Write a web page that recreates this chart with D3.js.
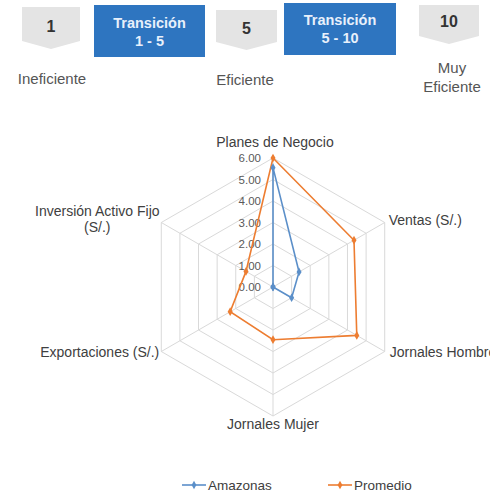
<!DOCTYPE html>
<html>
<head>
<meta charset="utf-8">
<script src="https://cdn.jsdelivr.net/npm/d3@7"></script>
<style>
  html, body { margin: 0; padding: 0; background: #fff; overflow: hidden; }
  svg { display: block; font-family: "Liberation Sans", Arial, sans-serif; }
</style>
</head>
<body>
<svg id="chart" width="490" height="495"></svg>
<script>
// ---- data ----
const categories = ["Planes de Negocio", "Ventas (S/.)", "Jornales Hombre", "Jornales Mujer", "Exportaciones (S/.)", "Inversión Activo Fijo (S/.)"];
const amazonas = [5.55, 1.4, 1.0, 0.0, 0.0, 0.0];
const promedio = [6.0, 4.35, 4.5, 2.45, 2.3, 1.45];
const seriesNames = ["Amazonas", "Promedio"];
const tickValues = [0, 1, 2, 3, 4, 5, 6];
const levelLabels = ["1", "5", "10"];
const levelNames = [["Ineficiente"], ["Eficiente"], ["Muy", "Eficiente"]];
const transitionLabels = [["Transición", "1 - 5"], ["Transición", "5 - 10"]];

const colors = { Amazonas: "#5b8fc9", Promedio: "#ed7d31" };

const svg = d3.select("#chart");

// ---- header ----
const grayBoxes = [
  { x: 22, y: 7, w: 58, h: 34, tip: 8, ty: 32 },
  { x: 216, y: 10, w: 61, h: 32, tip: 8, ty: 34 },
  { x: 419, y: 5, w: 60, h: 31, tip: 8, ty: 27 }
];
const grayG = svg.append("g");
grayBoxes.forEach((b, i) => {
  const p = d3.path();
  p.moveTo(b.x, b.y);
  p.lineTo(b.x + b.w, b.y);
  p.lineTo(b.x + b.w, b.y + b.h);
  p.lineTo(b.x + b.w / 2, b.y + b.h + b.tip);
  p.lineTo(b.x, b.y + b.h);
  p.closePath();
  grayG.append("path").attr("d", p.toString()).attr("fill", "#e4e4e4");
  grayG.append("text").attr("x", b.x + b.w / 2).attr("y", b.ty)
    .attr("text-anchor", "middle").attr("font-size", 16).attr("font-weight", "bold")
    .attr("fill", "#333").text(levelLabels[i]);
});
const nameY = [[84], [85], [73, 92]];
const nameX = [52, 245, 452];
levelNames.forEach((lines, i) => {
  lines.forEach((t, j) => {
    svg.append("text").attr("x", nameX[i]).attr("y", nameY[i][j])
      .attr("text-anchor", "middle").attr("font-size", 15).attr("fill", "#555").text(t);
  });
});
const blueBoxes = [{ x: 94, y: 5, w: 111, h: 52, ty: 28 }, { x: 284, y: 3, w: 112, h: 52, ty: 25 }];
blueBoxes.forEach((b, i) => {
  svg.append("rect").attr("x", b.x).attr("y", b.y).attr("width", b.w).attr("height", b.h).attr("fill", "#2e75c0");
  transitionLabels[i].forEach((t, j) => {
    svg.append("text").attr("x", b.x + b.w / 2).attr("y", b.ty + j * 18)
      .attr("text-anchor", "middle").attr("font-size", 14.5).attr("font-weight", "bold")
      .attr("fill", "#e8f0fb").text(t);
  });
});

// ---- radar ----
const cx = 273, cy = 287;
const r = d3.scaleLinear().domain([0, 6]).range([0, 129]);
const angle = d3.scaleLinear().domain([0, categories.length]).range([0, 2 * Math.PI]);
const pt = (v, i) => [cx + r(v) * Math.sin(angle(i)), cy - r(v) * Math.cos(angle(i))];

const grid = svg.append("g");
tickValues.filter(t => t > 0).forEach(t => {
  grid.append("path")
    .attr("d", d3.line()(categories.map((c, i) => pt(t, i))) + "Z")
    .attr("fill", "none").attr("stroke", "#d9d9d9").attr("stroke-width", 1);
});
categories.forEach((c, i) => {
  const [x, y] = pt(6, i);
  grid.append("line").attr("x1", cx).attr("y1", cy).attr("x2", x).attr("y2", y)
    .attr("stroke", "#d9d9d9").attr("stroke-width", 1);
});

// tick labels
tickValues.forEach(t => {
  svg.append("text").attr("x", cx - 12).attr("y", cy - r(t) + 4)
    .attr("text-anchor", "end").attr("font-size", 11.5).attr("fill", "#595959")
    .text(d3.format(".2f")(t));
});

// category labels
const labelPos = [
  { dx: 2, dy: -11, anchor: "middle" },
  { dx: 4, dy: 2, anchor: "start" },
  { dx: 5, dy: 5, anchor: "start" },
  { dx: 0, dy: 13, anchor: "middle" },
  { dx: -2, dy: 5, anchor: "end" },
  { dx: -64, dy: -7, anchor: "middle" }
];
categories.forEach((c, i) => {
  const [x, y] = pt(6, i);
  const lp = labelPos[i];
  const t = svg.append("text").attr("x", x + lp.dx).attr("y", y + lp.dy)
    .attr("text-anchor", lp.anchor).attr("font-size", 14).attr("fill", "#404040");
  if (i === 5) {
    t.append("tspan").attr("x", x + lp.dx).text("Inversión Activo Fijo");
    t.append("tspan").attr("x", x + lp.dx).attr("dy", 16).text("(S/.)");
  } else {
    t.text(c);
  }
});

// series
const seriesData = [amazonas, promedio];
const drawOrder = [1, 0];
drawOrder.forEach(si => {
  const vals = seriesData[si];
  const name = seriesNames[si];
  const pts = vals.map((v, i) => pt(v, i));
  svg.append("path").attr("d", d3.line()(pts) + "Z")
    .attr("fill", "none").attr("stroke", colors[name]).attr("stroke-width", 1.6);
  svg.append("g").selectAll("path").data(pts).join("path")
    .attr("d", d3.symbol(d3.symbolDiamond, 22)())
    .attr("transform", d => `translate(${d[0]},${d[1]})`)
    .attr("fill", colors[name]);
});

// legend
const legendX = [182, 328];
seriesNames.forEach((n, i) => {
  const g = svg.append("g").attr("transform", `translate(${legendX[i]},485)`);
  g.append("line").attr("x1", 0).attr("x2", 24).attr("y1", 0).attr("y2", 0)
    .attr("stroke", colors[n]).attr("stroke-width", 1.6);
  g.append("path").attr("d", d3.symbol(d3.symbolDiamond, 20)()).attr("transform", "translate(12,0)").attr("fill", colors[n]);
  g.append("text").attr("x", 26).attr("y", 5).attr("font-size", 13.5).attr("fill", "#404040").text(n);
});
</script>
</body>
</html>
